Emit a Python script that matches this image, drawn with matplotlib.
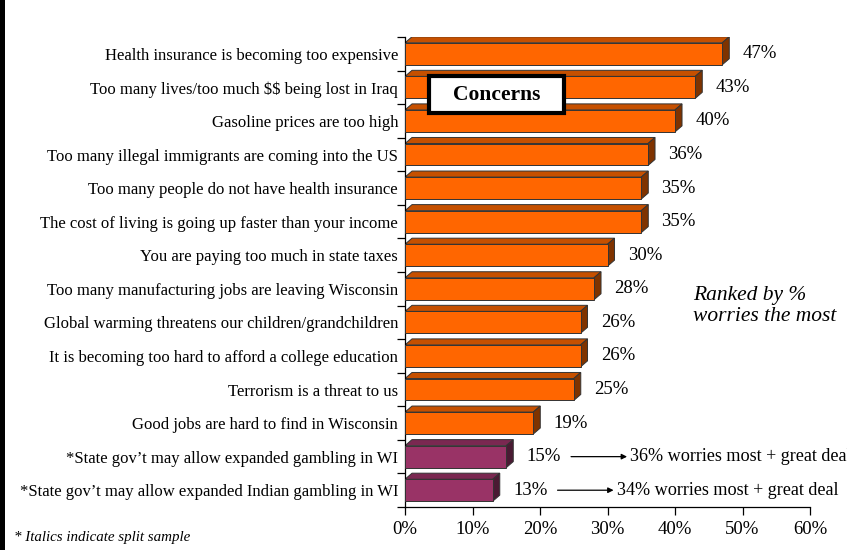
import matplotlib.pyplot as plt
from matplotlib import rcParams as defaults
from matplotlib.patches import Polygon, Rectangle

defaults["font.family"] = ["Liberation Serif", "DejaVu Serif"]
defaults["text.parse_math"] = False  # labels contain "$$"

labels = [
    "Health insurance is becoming too expensive",
    "Too many lives/too much $$ being lost in Iraq",
    "Gasoline prices are too high",
    "Too many illegal immigrants are coming into the US",
    "Too many people do not have health insurance",
    "The cost of living is going up faster than your income",
    "You are paying too much in state taxes",
    "Too many manufacturing jobs are leaving Wisconsin",
    "Global warming threatens our children/grandchildren",
    "It is becoming too hard to afford a college education",
    "Terrorism is a threat to us",
    "Good jobs are hard to find in Wisconsin",
    "*State gov\u2019t may allow expanded gambling in WI",
    "*State gov\u2019t may allow expanded Indian gambling in WI",
]
worries_most = [47, 43, 40, 36, 35, 35, 30, 28, 26, 26, 25, 19, 15, 13]
split_sample = [False] * 12 + [True, True]

# split-sample items: share saying "worries most" + "great deal"
combined = {12: 36, 13: 34}

xticks = [0, 10, 20, 30, 40, 50, 60]

orange = ("#FF6600", "#C65000", "#7F3300")  # front, top, side
purple = ("#993366", "#7A2851", "#4A1A33")

if __name__ == "__main__":

    fig = plt.figure(figsize=(8.47, 5.5), dpi=100)
    ax = fig.add_axes([405 / 847, 43 / 550, 405 / 847, 470 / 550])

    n = len(labels)
    rows = list(range(n))
    bar_h = 0.655
    dx, dy = 1.04, 0.18  # depth of the 3-D extrusion (data units)

    for y, v, split in zip(rows, worries_most, split_sample):
        front, top, side = purple if split else orange
        y0, y1 = y - bar_h / 2, y + bar_h / 2
        ax.add_patch(Polygon([(0, y0), (dx, y0 - dy), (v + dx, y0 - dy), (v, y0)],
                             facecolor=top, edgecolor="#333333", lw=0.7, zorder=2))
        ax.add_patch(Polygon([(v, y0), (v + dx, y0 - dy), (v + dx, y1 - dy), (v, y1)],
                             facecolor=side, edgecolor="#333333", lw=0.7, zorder=2))
    ax.barh(rows, worries_most, height=bar_h, left=0,
            color=[purple[0] if s else orange[0] for s in split_sample],
            edgecolor="#333333", linewidth=0.7, zorder=3)

    for y, v in zip(rows, worries_most):
        ax.text(v + 3.0, y, f"{v}%", ha="left", va="center", fontsize=13.5)

    for y, pct in combined.items():
        start = worries_most[y] + 9.6
        ax.annotate("", xy=(start + 8.3, y), xytext=(start, y),
                    arrowprops=dict(arrowstyle="-|>", color="black", lw=0.9,
                                    mutation_scale=8, shrinkA=0, shrinkB=0))
        ax.text(start + 8.8, y, f"{pct}% worries most + great deal",
                ha="left", va="center", fontsize=13.1, clip_on=False)

    ax.set_xlim(0, 60)
    ax.set_ylim(n - 0.5, -0.5)
    ax.set_xticks(xticks)
    ax.set_xticklabels([f"{t}%" for t in xticks], fontsize=13.5)
    ax.set_yticks([r + 0.5 for r in range(-1, n)])
    ax.set_yticklabels([])
    ax.set_yticks(rows, minor=True)
    ax.set_yticklabels(labels, minor=True, fontsize=12)
    ax.tick_params(axis="y", which="major", length=6, width=0.9, direction="out")
    ax.tick_params(axis="y", which="minor", length=0, pad=5)
    ax.tick_params(axis="x", length=6, width=0.9, direction="out", pad=4)
    for side in ("top", "right"):
        ax.spines[side].set_visible(False)
    for side in ("left", "bottom"):
        ax.spines[side].set_linewidth(0.9)

    # title box
    fig.add_artist(Rectangle((429 / 847, 1 - 113 / 550), 135 / 847, 37 / 550,
                             transform=fig.transFigure, facecolor="white",
                             edgecolor="black", lw=3, zorder=5))
    fig.text(496.5 / 847, 1 - 95 / 550, "Concerns", ha="center", va="center",
             fontsize=15.5, fontweight="bold", zorder=6)

    fig.text(693 / 847, 1 - 306 / 550, "Ranked by %\nworries the most",
             ha="left", va="center", fontsize=15.5, style="italic",
             linespacing=1.2)
    fig.text(14 / 847, 1 - 537 / 550, "* Italics indicate split sample",
             ha="left", va="center", fontsize=10.8, style="italic")

    # dark strip along the left edge
    fig.add_artist(Rectangle((0, 0), 4.5 / 847, 1, transform=fig.transFigure,
                             facecolor="black", edgecolor="none"))

    plt.savefig("out.png", dpi=100)
